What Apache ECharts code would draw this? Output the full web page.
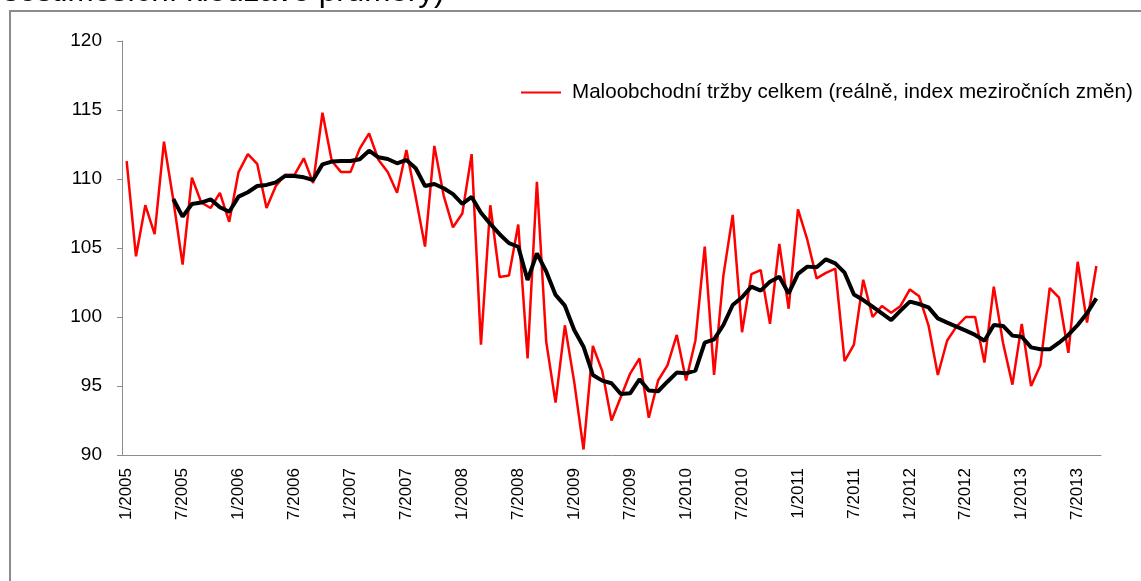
<!DOCTYPE html>
<html>
<head>
<meta charset="utf-8">
<script src="https://cdn.jsdelivr.net/npm/echarts@6/dist/echarts.min.js"></script>
<style>
  html, body { margin: 0; padding: 0; background: #fff; }
  #chart { width: 1141px; height: 581px; }
</style>
</head>
<body>
<div id="chart"></div>
<script>
const categories = [
  '1/2005','2/2005','3/2005','4/2005','5/2005','6/2005','7/2005','8/2005','9/2005','10/2005','11/2005','12/2005',
  '1/2006','2/2006','3/2006','4/2006','5/2006','6/2006','7/2006','8/2006','9/2006','10/2006','11/2006','12/2006',
  '1/2007','2/2007','3/2007','4/2007','5/2007','6/2007','7/2007','8/2007','9/2007','10/2007','11/2007','12/2007',
  '1/2008','2/2008','3/2008','4/2008','5/2008','6/2008','7/2008','8/2008','9/2008','10/2008','11/2008','12/2008',
  '1/2009','2/2009','3/2009','4/2009','5/2009','6/2009','7/2009','8/2009','9/2009','10/2009','11/2009','12/2009',
  '1/2010','2/2010','3/2010','4/2010','5/2010','6/2010','7/2010','8/2010','9/2010','10/2010','11/2010','12/2010',
  '1/2011','2/2011','3/2011','4/2011','5/2011','6/2011','7/2011','8/2011','9/2011','10/2011','11/2011','12/2011',
  '1/2012','2/2012','3/2012','4/2012','5/2012','6/2012','7/2012','8/2012','9/2012','10/2012','11/2012','12/2012',
  '1/2013','2/2013','3/2013','4/2013','5/2013','6/2013','7/2013','8/2013','9/2013'
];

const salesTotal = [
  111.3,104.4,108.1,106.0,112.7,108.5,103.8,110.1,108.3,107.9,109.0,106.9,
  110.5,111.8,111.1,107.9,109.5,110.3,110.3,111.5,109.7,114.8,111.3,110.5,
  110.5,112.2,113.3,111.4,110.5,109.0,112.1,108.7,105.1,112.4,108.8,106.5,
  107.5,111.8,98.0,108.1,102.9,103.0,106.7,97.0,109.8,98.2,93.8,99.4,
  95.3,90.4,97.9,96.1,92.5,94.2,95.9,97.0,92.7,95.4,96.5,98.7,
  95.4,98.3,105.1,95.8,103.0,107.4,98.9,103.1,103.4,99.5,105.3,100.6,
  107.8,105.6,102.8,103.2,103.5,96.8,98.0,102.7,100.0,100.8,100.3,100.8,
  102.0,101.5,99.4,95.8,98.3,99.3,100.0,100.0,96.7,102.2,98.1,95.1,
  99.5,95.0,96.5,102.1,101.4,97.4,104.0,99.6,103.7
];

const movingAvg6 = [
  null,null,null,null,null,108.55,107.27,108.19,108.29,108.53,107.95,107.63,
  108.72,109.04,109.49,109.57,109.76,110.22,110.22,110.12,109.93,111.06,111.26,111.3,
  111.3,111.43,112.05,111.57,111.45,111.14,111.38,110.78,109.49,109.64,109.33,108.9,
  108.2,108.7,107.55,106.75,106.0,105.35,105.09,102.68,104.61,103.3,101.6,100.82,
  99.06,97.85,95.8,95.39,95.2,94.42,94.47,95.49,94.68,94.62,95.31,95.97,
  95.92,96.11,98.14,98.38,99.42,100.87,101.43,102.2,101.91,102.56,102.92,101.71,
  103.12,103.65,103.6,104.18,103.89,103.21,101.63,101.23,100.75,100.27,99.78,100.46,
  101.11,100.94,100.7,99.9,99.59,99.3,99.01,98.7,98.28,99.42,99.35,98.65,
  98.57,97.8,97.66,97.66,98.14,98.7,99.42,100.27,101.35
];

const yTicks = { min: 90, max: 120, interval: 5 };
const legendLabel = 'Maloobchodní tržby celkem (reálně, index meziročních změn)';
const headerText = 'šestiměsíční klouzavé průměry)';

const FONT = 'Liberation Sans, Arial, sans-serif';
const chart = echarts.init(document.getElementById('chart'), null, { renderer: 'canvas' });
chart.setOption({
  backgroundColor: '#ffffff',
  animation: false,
  textStyle: { fontFamily: FONT },
  graphic: [
    {
      type: 'rect',
      shape: { x: 10, y: 11, width: 1160, height: 600 },
      style: { fill: 'none', stroke: '#8c8c8c', lineWidth: 2 },
      silent: true
    },
    {
      type: 'text',
      x: 3, y: -8,
      style: { text: headerText, font: '31.4px ' + FONT, fill: '#000', textVerticalAlign: 'middle' },
      silent: true
    }
  ],
  legend: {
    data: [legendLabel],
    left: 516, top: 77,
    icon: 'rect', itemWidth: 40, itemHeight: 2, itemGap: 0,
    textStyle: { fontSize: 20.6, color: '#000', fontFamily: FONT, padding: [0, 0, 0, 6] }
  },
  grid: { left: 122, right: 40, top: 41, bottom: 126, containLabel: false },
  xAxis: {
    type: 'category',
    data: categories,
    boundaryGap: true,
    axisLine: { lineStyle: { color: '#8c8c8c', width: 1 } },
    axisTick: { interval: 0, length: 5, lineStyle: { color: '#8c8c8c' } },
    axisLabel: { interval: 5, rotate: 90, margin: 13, fontSize: 17, color: '#000', fontFamily: FONT },
    splitLine: { show: false }
  },
  yAxis: {
    type: 'value',
    min: yTicks.min, max: yTicks.max, interval: yTicks.interval,
    axisLine: { show: true, lineStyle: { color: '#8c8c8c', width: 1 } },
    axisTick: { show: true, length: 5, lineStyle: { color: '#8c8c8c' } },
    axisLabel: { margin: 20, fontSize: 19, color: '#000', fontFamily: FONT },
    splitLine: { show: false }
  },
  series: [
    {
      name: legendLabel,
      type: 'line',
      data: salesTotal,
      symbol: 'none',
      lineStyle: { color: '#ff0000', width: 2.5 },
      itemStyle: { color: '#ff0000' },
      z: 2
    },
    {
      name: 'Klouzavý průměr',
      type: 'line',
      data: movingAvg6,
      symbol: 'none',
      connectNulls: false,
      lineStyle: { color: '#000000', width: 4 },
      itemStyle: { color: '#000000' },
      z: 3
    }
  ]
});
</script>
</body>
</html>
